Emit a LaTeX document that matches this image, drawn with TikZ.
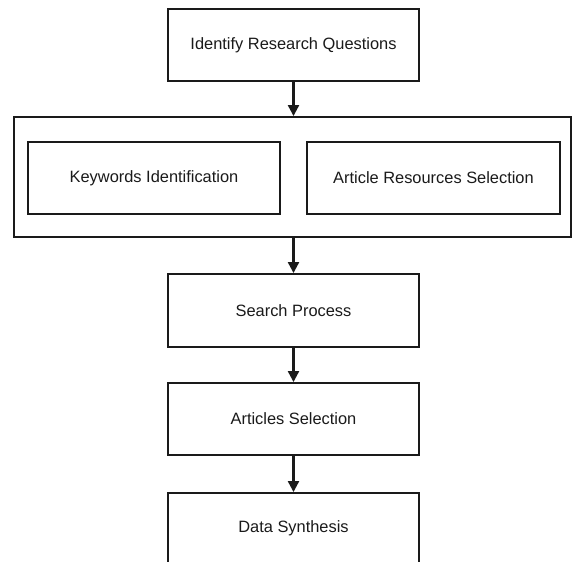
\documentclass[tikz,border=0pt]{standalone}
\usepackage{fontspec}
\setmainfont{Liberation Sans}
\usetikzlibrary{arrows.meta}
\definecolor{ink}{HTML}{1A1A1A}
\begin{document}
\begin{tikzpicture}[x=1pt,y=-1pt,
  box/.style={draw=ink,line width=1.9pt,rectangle,minimum width=251pt,minimum height=72pt,inner sep=0pt,font=\fontsize{16.4}{19}\selectfont,text=ink},
  frame/.style={draw=ink,line width=1.9pt,rectangle,inner sep=0pt},
  arr/.style={draw=ink,line width=2.2pt,-{Triangle[length=11pt,width=11pt]}}]
\useasboundingbox (0,0) rectangle (573,562);
\clip (0,0) rectangle (573,562);
\fill[white] (0,0) rectangle (573,562);
\node[box] (q) at (293.5,45) {Identify Research Questions};
\node[frame,minimum width=557pt,minimum height=120pt] (grp) at (292.5,177) {};
\node[box,minimum width=252pt] (kw) at (154,178) {Keywords Identification};
\node[box,minimum width=253pt] (ar) at (433.5,178) {Article Resources Selection};
\node[box,minimum height=73pt] (sp) at (293.5,310.5) {Search Process};
\node[box] (as) at (293.5,419) {Articles Selection};
\node[box,minimum height=71pt] (ds) at (293.5,528.5) {Data Synthesis};
\draw[arr] (q.south) -- (q.south |- grp.north);
\draw[arr] (grp.south -| sp.north) -- (sp.north);
\draw[arr] (sp.south) -- (as.north);
\draw[arr] (as.south) -- (ds.north);
\end{tikzpicture}
\end{document}
